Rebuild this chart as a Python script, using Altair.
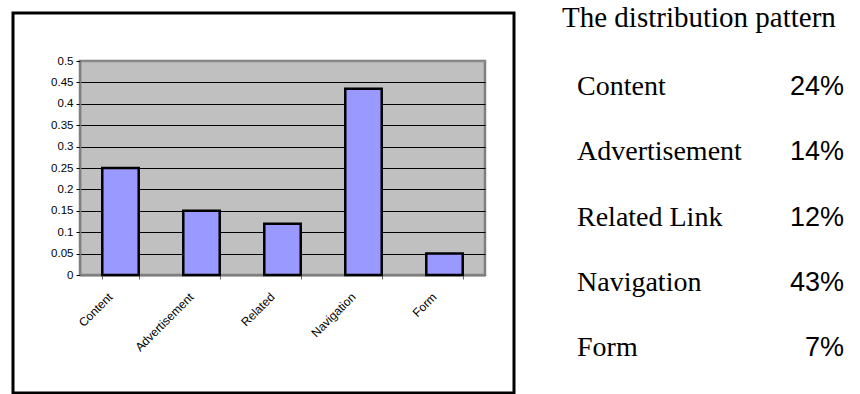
import altair as alt
import pandas as pd

# Bar chart data
categories = ["Content", "Advertisement", "Related", "Navigation", "Form"]
shares = [0.25, 0.15, 0.12, 0.435, 0.05]
y_ticks = [0, 0.05, 0.1, 0.15, 0.2, 0.25, 0.3, 0.35, 0.4, 0.45, 0.5]

# Side table data
table_names = ["Content", "Advertisement", "Related Link", "Navigation", "Form"]
table_pcts = ["24%", "14%", "12%", "43%", "7%"]
title_text = ["The distribution pattern"]

bars_df = pd.DataFrame({"category": categories, "share": shares})
table_df = pd.DataFrame({"name": table_names, "pct": table_pcts})
title_df = pd.DataFrame({"t": title_text})
box_df = pd.DataFrame({"k": [0]})

box = alt.Chart(box_df).mark_rect(fillOpacity=0, stroke="black", strokeWidth=3).encode(
    x=alt.value(-67), x2=alt.value(434), y=alt.value(-48), y2=alt.value(332)
)

bars = alt.Chart(bars_df).mark_bar(fill="#9999FF", stroke="black", strokeWidth=2.5).encode(
    x=alt.X(
        "category:N", sort=categories, title=None,
        scale=alt.Scale(paddingInner=0.55, paddingOuter=0.275),
        axis=alt.Axis(
            labelAngle=-45, labelAlign="right", labelBaseline="top",
            labelOffset=-14, labelPadding=12, tickBand="extent", tickSize=4,
            tickColor="#666666", domainColor="#808080", domainWidth=2,
            labelFont="Liberation Sans", labelFontSize=12, labelColor="black",
        ),
    ),
    y=alt.Y(
        "share:Q", title=None,
        scale=alt.Scale(domain=[0, 0.5], nice=False),
        axis=alt.Axis(
            values=y_ticks, format="~g", grid=True,
            gridColor={"condition": {"test": "datum.value >= 0.5", "value": "#909090"}, "value": "black"},
            gridWidth=1, tickSize=4, tickColor="black",
            domainColor="#808080", domainWidth=1.5,
            labelFont="Liberation Sans", labelFontSize=11.5, labelColor="black", labelPadding=3,
        ),
    ),
)

title = alt.Chart(title_df).mark_text(
    align="left", baseline="alphabetic", font="Liberation Serif", fontSize=29, color="black"
).encode(x=alt.value(482), y=alt.value(-34), text="t:N")

names = alt.Chart(table_df).mark_text(
    align="left", baseline="alphabetic", font="Liberation Serif", fontSize=28, color="black"
).encode(
    x=alt.value(497),
    y=alt.Y("name:N", sort=table_names, scale=alt.Scale(type="point", range=[34, 295], padding=0), axis=None),
    text="name:N",
)

pcts = alt.Chart(table_df).mark_text(
    align="right", baseline="alphabetic", font="Liberation Sans", fontSize=27, color="black"
).encode(
    x=alt.value(764),
    y=alt.Y("name:N", sort=table_names, scale=alt.Scale(type="point", range=[34, 295], padding=0), axis=None),
    text="pct:N",
)

chart = alt.layer(box, bars, title, names, pcts).resolve_scale(y="independent").properties(
    width=405, height=214,
    autosize=alt.AutoSizeParams(type="none"),
    padding={"left": 80, "top": 61, "right": 375, "bottom": 119},
    background="white",
).configure_view(fill="#C0C0C0", stroke="#808080", strokeWidth=2.5)

chart.save("out.html", embed_options={"renderer": "svg", "actions": False})
